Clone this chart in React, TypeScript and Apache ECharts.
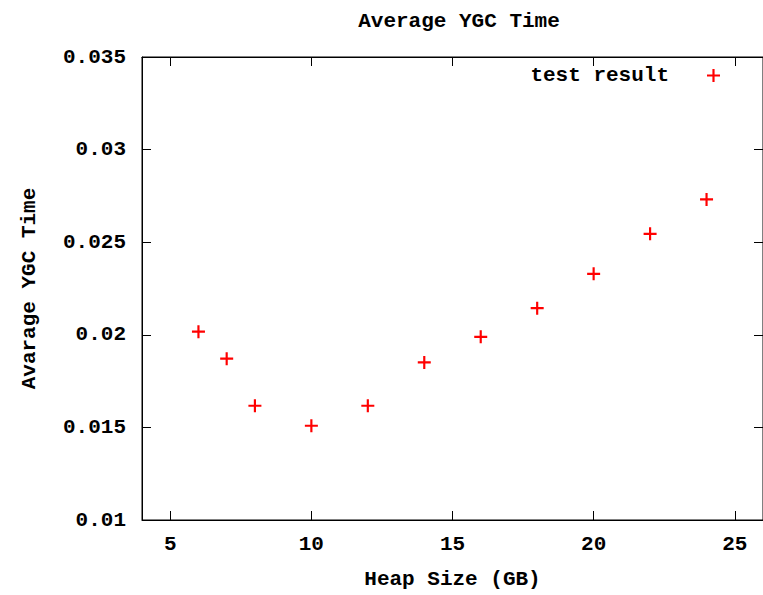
import React, { useEffect, useRef } from "react";
import * as echarts from "echarts";

const heapSizes = [6, 7, 8, 10, 12, 14, 16, 18, 20, 22, 24];
const ygcTimes = [0.02017, 0.01871, 0.01617, 0.01509, 0.01617, 0.01851, 0.01989, 0.02144, 0.02329, 0.02545, 0.02731];
const xTickValues = [5, 10, 15, 20, 25];
const seriesName = "test result";
const chartTitle = "Average YGC Time";
const xAxisName = "Heap Size (GB)";
const yAxisName = "Avarage YGC Time";

const PLUS = "path://M5,0h2v5h5v2h-5v5h-2v-5h-5v-2h5z";
const FONT = "'Liberation Mono', 'DejaVu Sans Mono', monospace";

export default function App() {
  const ref = useRef<HTMLDivElement>(null);
  useEffect(() => {
    if (!ref.current) return;
    const chart = echarts.init(ref.current, undefined, { renderer: "svg" });
    const txt = { fontFamily: FONT, fontWeight: "bold" as const, fontSize: 21, color: "#000" };
    const fmtY = (v: number) => String(parseFloat(v.toFixed(4)));
    const tick = { show: true, inside: true, length: 9, lineStyle: { color: "#000", width: 1 } };
    chart.setOption({
      animation: false,
      backgroundColor: "#fff",
      title: {
        text: chartTitle,
        left: 454,
        textAlign: "center",
        top: 6,
        textStyle: { ...txt },
      },
      legend: {
        data: [{ name: seriesName, icon: PLUS }],
        right: 43,
        top: 65,
        padding: 0,
        align: "right",
        itemWidth: 13,
        itemHeight: 13,
        selectedMode: false,
        textStyle: { ...txt, padding: [0, 33, 0, 0] },
      },
      grid: { left: 142, right: -4, top: 57, bottom: 71, show: true, borderColor: "#000", borderWidth: 1 },
      xAxis: [
        {
          type: "value",
          min: 4,
          max: 26,
          name: xAxisName,
          nameLocation: "middle",
          nameGap: 49,
          nameTextStyle: { ...txt },
          axisLine: { show: true, lineStyle: { color: "#000", width: 1 } },
          axisTick: { ...tick, customValues: xTickValues },
          splitLine: { show: false },
          axisLabel: { ...txt, margin: 14, customValues: xTickValues },
        } as any,
        {
          type: "value",
          position: "top",
          min: 4,
          max: 26,
          axisLine: { show: true, lineStyle: { color: "#000", width: 1 } },
          axisTick: { ...tick, customValues: xTickValues },
          axisLabel: { show: false, customValues: xTickValues },
          splitLine: { show: false },
        } as any,
      ],
      yAxis: [
        {
          type: "value",
          min: 0.01,
          max: 0.035,
          interval: 0.005,
          name: yAxisName,
          nameLocation: "middle",
          nameGap: 102,
          nameRotate: 90,
          nameTextStyle: { ...txt },
          axisLine: { show: true, lineStyle: { color: "#000", width: 1 } },
          axisTick: tick,
          splitLine: { show: false },
          axisLabel: { ...txt, margin: 16, formatter: fmtY },
        },
        {
          type: "value",
          position: "right",
          min: 0.01,
          max: 0.035,
          interval: 0.005,
          axisLine: { show: true, lineStyle: { color: "#000", width: 1 } },
          axisTick: tick,
          axisLabel: { show: false },
          splitLine: { show: false },
        },
      ],
      series: [
        {
          name: seriesName,
          type: "scatter",
          symbol: PLUS,
          symbolSize: 13,
          itemStyle: { color: "#ff0000", opacity: 1 },
          data: heapSizes.map((x, i) => [x, ygcTimes[i]]),
        },
      ],
    });
    return () => chart.dispose();
  }, []);
  return <div ref={ref} style={{ position: "absolute", left: 0, top: 0, width: 763, height: 595 }} />;
}
